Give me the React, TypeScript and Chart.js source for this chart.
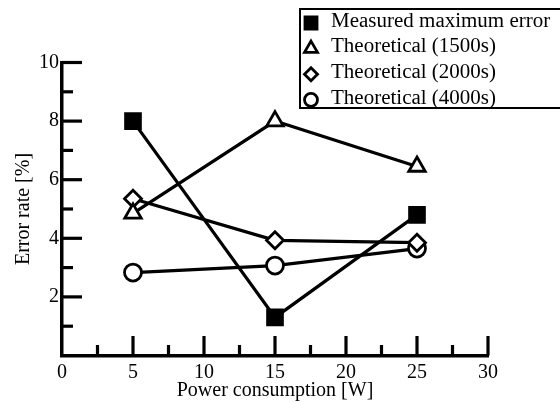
import React, { useEffect, useRef } from "react";
import { Chart, registerables } from "chart.js";

Chart.register(...registerables);

const powerW = [5, 15, 25];
const measuredMax = [8.0, 1.3, 4.8];
const theo1500 = [4.85, 8.0, 6.45];
const theo2000 = [5.35, 3.93, 3.85];
const theo4000 = [2.83, 3.07, 3.65];
const seriesLabels = [
  "Measured maximum error",
  "Theoretical (1500s)",
  "Theoretical (2000s)",
  "Theoretical (4000s)",
];
const xMajorTicks = [5, 10, 15, 20, 25, 30];
const xMinorTicks = [2.5, 7.5, 12.5, 17.5, 22.5, 27.5];
const yMajorTicks = [2, 4, 6, 8, 10];
const yMinorTicks = [1, 3, 5, 7, 9];

const FONT = "'Liberation Serif', 'Times New Roman', serif";

function drawMarker(ctx: CanvasRenderingContext2D, style: string, x: number, y: number, r: number, fill: string) {
  ctx.save();
  ctx.beginPath();
  if (style === "rect") {
    const s = r * Math.SQRT1_2;
    ctx.rect(x - s, y - s, 2 * s, 2 * s);
  } else if (style === "triangle") {
    ctx.moveTo(x, y - r);
    ctx.lineTo(x + r * 0.866, y + r * 0.5);
    ctx.lineTo(x - r * 0.866, y + r * 0.5);
    ctx.closePath();
  } else if (style === "rectRot") {
    ctx.moveTo(x, y - r);
    ctx.lineTo(x + r, y);
    ctx.lineTo(x, y + r);
    ctx.lineTo(x - r, y);
    ctx.closePath();
  } else {
    ctx.arc(x, y, r, 0, Math.PI * 2);
  }
  ctx.fillStyle = fill;
  ctx.fill();
  ctx.lineWidth = 2.8;
  ctx.strokeStyle = "#000";
  ctx.stroke();
  ctx.restore();
}

const inwardTicks = {
  id: "inwardTicks",
  beforeDatasetsDraw(chart: any) {
    const ctx = chart.ctx as CanvasRenderingContext2D;
    const xs = chart.scales.x;
    const ys = chart.scales.y;
    const ca = chart.chartArea;
    ctx.save();
    ctx.strokeStyle = "#000";
    ctx.lineWidth = 3.2;
    ctx.lineCap = "butt";
    const draw = (x1: number, y1: number, x2: number, y2: number) => {
      ctx.beginPath();
      ctx.moveTo(x1, y1);
      ctx.lineTo(x2, y2);
      ctx.stroke();
    };
    xMajorTicks.forEach((v) => {
      const px = xs.getPixelForValue(v);
      draw(px, ca.bottom, px, ca.bottom - 19.5);
    });
    xMinorTicks.forEach((v) => {
      const px = xs.getPixelForValue(v);
      draw(px, ca.bottom, px, ca.bottom - 10.5);
    });
    yMajorTicks.forEach((v) => {
      const py = ys.getPixelForValue(v);
      draw(ca.left, py, ca.left + 20, py);
    });
    yMinorTicks.forEach((v) => {
      const py = ys.getPixelForValue(v);
      draw(ca.left, py, ca.left + 11, py);
    });
    ctx.restore();
  },
};

const boxLegend = {
  id: "boxLegend",
  afterDraw(chart: any) {
    const ctx = chart.ctx as CanvasRenderingContext2D;
    ctx.save();
    ctx.lineWidth = 2;
    ctx.strokeStyle = "#000";
    ctx.strokeRect(300, 9, 300, 99);
    ctx.font = `20px ${FONT}`;
    ctx.fillStyle = "#000";
    ctx.textBaseline = "middle";
    ctx.textAlign = "left";
    chart.data.datasets.forEach((ds: any, i: number) => {
      const y = 21.5 + i * 25.6;
      const fill = ds.pointStyle === "rect" ? "#000" : "#fff";
      const r = ds.pointStyle === "rect" ? 8.5 : ds.pointStyle === "triangle" ? 7.5 : 6.5;
      drawMarker(ctx, ds.pointStyle, 311, y + 1.5, r, fill);
      ctx.save();
      ctx.fillStyle = "#000";
      ctx.translate(331, y);
      ctx.scale(1.05, 1);
      ctx.fillText(ds.label, 0, 0);
      ctx.restore();
    });
    ctx.restore();
  },
};

export default function App() {
  const ref = useRef<HTMLCanvasElement>(null);
  useEffect(() => {
    if (!ref.current) return;
    const common = {
      borderColor: "#000",
      borderWidth: 3.2,
      pointBorderColor: "#000",
      pointBorderWidth: 2.8,
      tension: 0,
    };
    const chart = new Chart(ref.current, {
      type: "line",
      data: {
        datasets: [
          {
            ...common,
            label: seriesLabels[0],
            data: powerW.map((x, i) => ({ x, y: measuredMax[i] })),
            pointStyle: "rect",
            pointRadius: 10.5,
            pointBackgroundColor: "#000",
          },
          {
            ...common,
            label: seriesLabels[1],
            data: powerW.map((x, i) => ({ x, y: theo1500[i] })),
            pointStyle: "triangle",
            pointRadius: 9.5,
            pointBackgroundColor: "#fff",
          },
          {
            ...common,
            label: seriesLabels[2],
            data: powerW.map((x, i) => ({ x, y: theo2000[i] })),
            pointStyle: "rectRot",
            pointRadius: 8.5,
            pointBackgroundColor: "#fff",
          },
          {
            ...common,
            label: seriesLabels[3],
            data: powerW.map((x, i) => ({ x, y: theo4000[i] })),
            pointStyle: "circle",
            pointRadius: 8.5,
            pointBackgroundColor: "#fff",
          },
        ] as any,
      },
      options: {
        animation: false,
        responsive: false,
        maintainAspectRatio: false,
        layout: { padding: { top: 62.5, right: 72, left: 0, bottom: 0 } },
        plugins: { legend: { display: false }, tooltip: { enabled: false } },
        scales: {
          x: {
            type: "linear",
            min: 0,
            max: 30,
            grid: { display: false, drawTicks: false },
            border: { display: true, color: "#000", width: 3.5 },
            ticks: {
              stepSize: 5,
              color: "#000",
              padding: 5,
              font: { family: FONT, size: 20 },
            },
            title: {
              display: true,
              text: "Power consumption [W]",
              color: "#000",
              font: { family: FONT, size: 20 },
              padding: { top: 0, bottom: 0 },
            },
            afterFit: (s: any) => {
              s.height = 47.5;
            },
          },
          y: {
            type: "linear",
            min: 0,
            max: 10,
            grid: { display: false, drawTicks: false },
            border: { display: true, color: "#000", width: 3.5 },
            ticks: {
              stepSize: 2,
              color: "#000",
              padding: 3,
              font: { family: FONT, size: 20 },
              callback: (v: any) => (v === 0 ? "" : String(v)),
            },
            title: {
              display: true,
              text: "Error rate [%]",
              color: "#000",
              font: { family: FONT, size: 20 },
              padding: { top: 12, bottom: 0 },
            },
            afterFit: (s: any) => {
              s.width = 62;
            },
          },
        },
      } as any,
      plugins: [inwardTicks, boxLegend],
    });
    return () => chart.destroy();
  }, []);
  return (
    <div style={{ position: "fixed", left: 0, top: 0, width: 560, height: 403, background: "#fff" }}>
      <canvas ref={ref} width={560} height={403} />
    </div>
  );
}
